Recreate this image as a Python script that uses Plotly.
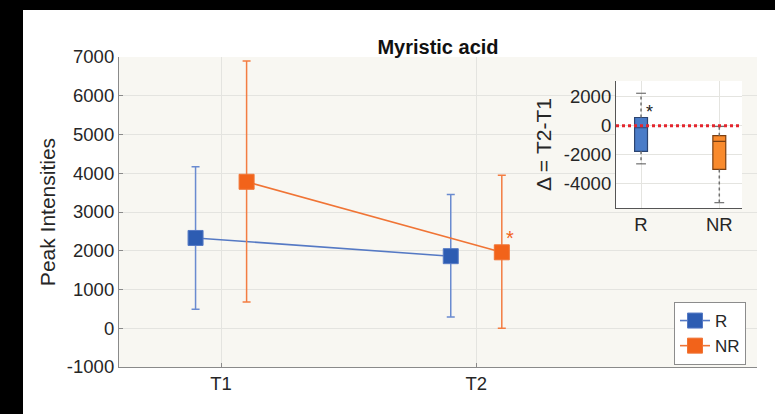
import plotly.graph_objects as go

# ---------------- data ----------------
timepoints = ["T1", "T2"]
r_mean = [2330, 1860]
r_upper = [4170, 3450]
r_lower = [490, 290]
nr_mean = [3780, 1960]
nr_upper = [6900, 3950]
nr_lower = [680, 0]

groups = ["R", "NR"]
d_q1 = [-1770, -3030]
d_median = [-140, -1080]
d_q3 = [570, -690]
d_low = [-2640, -5330]
d_high = [2250, -50]

main_ticks = [-1000, 0, 1000, 2000, 3000, 4000, 5000, 6000, 7000]
inset_ticks = [-4000, -2000, 0, 2000]

# ---------------- style ----------------
W, H = 775, 414
FONT = "Liberation Sans, Arial, sans-serif"
TXT = "#262626"
BLUE_M = "#2d5cb2"
BLUE_L = "#5579c4"
BLUE_E = "#6a8bd0"
OR_M = "#f2631a"
OR_L = "#f07435"
OR_E = "#f37d42"
DODGE = 0.1

def px_x(p):
    return p / W

def px_y(p):
    return 1 - p / H

pos = list(range(1, len(timepoints) + 1))

fig = go.Figure()

# main series
for name, mean, up, lo, sign, mc, lc, ec in [
    ("R", r_mean, r_upper, r_lower, -1, BLUE_M, BLUE_L, BLUE_E),
    ("NR", nr_mean, nr_upper, nr_lower, 1, OR_M, OR_L, OR_E),
]:
    fig.add_trace(go.Scatter(
        x=[p + sign * DODGE for p in pos], y=mean, name=name,
        mode="lines+markers",
        line=dict(color=lc, width=1.6),
        marker=dict(symbol="square", size=15, color=mc, line=dict(color=lc, width=1)),
        error_y=dict(type="data", symmetric=False,
                     array=[u - m for u, m in zip(up, mean)],
                     arrayminus=[m - l for m, l in zip(mean, lo)],
                     color=ec, thickness=1.5, width=4),
        xaxis="x", yaxis="y",
    ))

# inset boxes
gpos = list(range(1, len(groups) + 1))
box_fill = ["#4a7cc8", "#f98a2c"]
box_line = ["#2c4470", "#7a3e10"]
for i, g in enumerate(groups):
    for a, b in [(d_q3[i], d_high[i]), (d_q1[i], d_low[i])]:
        fig.add_trace(go.Scatter(
            x=[gpos[i], gpos[i]], y=[a, b], mode="lines",
            line=dict(color="#707070", width=1.5, dash="dot"),
            showlegend=False, hoverinfo="skip", xaxis="x2", yaxis="y2"))
    fig.add_trace(go.Scatter(
        x=[gpos[i], gpos[i]], y=[d_low[i], d_high[i]], mode="markers",
        marker=dict(symbol="line-ew", size=7, line=dict(color="#707070", width=1.2)),
        showlegend=False, hoverinfo="skip", xaxis="x2", yaxis="y2"))
    fig.add_trace(go.Box(
        x=[gpos[i]], q1=[d_q1[i]], median=[d_median[i]], q3=[d_q3[i]],
        lowerfence=[d_q1[i]], upperfence=[d_q3[i]],
        width=0.165, fillcolor=box_fill[i], line=dict(color=box_line[i], width=1.2),
        whiskerwidth=0, showlegend=False, hoverinfo="skip", xaxis="x2", yaxis="y2"))

# ---------------- layout ----------------
main_x = [px_x(119), px_x(757)]
main_y = [px_y(367), px_y(57)]
ins_x = [px_x(616), px_x(742)]
ins_y = [px_y(208), px_y(81)]

axis_common = dict(showline=True, linecolor="#8a8a8a", linewidth=1.2,
                   showgrid=True, gridcolor="#e4e4e0", gridwidth=1, zeroline=False,
                   tickfont=dict(family=FONT, size=18.5, color=TXT),
                   ticks="inside", tickcolor="#8a8a8a", ticklen=4, automargin=False)
inset_axis = {**axis_common, "ticks": "", "linecolor": "#555555"}

fig.update_layout(
    template="none",
    width=W, height=H, margin=dict(l=0, r=0, t=0, b=0, pad=0), autosize=False,
    paper_bgcolor="white", plot_bgcolor="white",
    font=dict(family=FONT, color=TXT),
    xaxis=dict(domain=main_x, range=[0.6, 3.1], tickvals=pos, ticktext=timepoints,
               anchor="y", **axis_common),
    yaxis=dict(domain=main_y, range=[-1000, 7000], tickvals=main_ticks,
               ticktext=[str(v) for v in main_ticks], anchor="x",
               title=dict(text="Peak Intensities", font=dict(family=FONT, size=21, color=TXT),
                          standoff=5),
               **axis_common),
    xaxis2=dict(domain=ins_x, range=[0.68, 2.29], tickvals=gpos, ticktext=groups,
                anchor="y2", **inset_axis),
    yaxis2=dict(domain=ins_y, range=[-5700, 3100], tickvals=inset_ticks,
                ticktext=[str(v) for v in inset_ticks], anchor="x2",
                title=dict(text="Δ = T2-T1", font=dict(family=FONT, size=21, color=TXT),
                           standoff=6),
                **inset_axis),
    legend=dict(x=px_x(674), y=px_y(302), xanchor="left", yanchor="top",
                bgcolor="white", bordercolor="#8c8c8c", borderwidth=1,
                font=dict(family=FONT, size=17, color=TXT),
                itemwidth=30, tracegroupgap=0),
    showlegend=True,
    title=dict(text="<b>Myristic acid</b>", x=px_x(438), xanchor="center", xref="paper",
               y=px_y(47), yanchor="middle", yref="container",
               font=dict(family=FONT, size=20, color="#111111")),
)

fig.add_shape(type="rect", xref="x domain", yref="y domain", x0=0, x1=1, y0=0, y1=1,
              fillcolor="#f8f7f2", line=dict(width=0), layer="below")
fig.add_shape(type="line", xref="x2 domain", yref="y2", x0=0, x1=1, y0=0, y1=0,
              line=dict(color="#e3262e", width=3, dash="dot"), layer="above")

fig.add_annotation(x=pos[1] + DODGE, y=nr_mean[1], xref="x", yref="y", text="*",
                   showarrow=False, xshift=8, yshift=14,
                   font=dict(family=FONT, size=20, color=OR_M))
fig.add_annotation(x=gpos[0], y=d_q3[0], xref="x2", yref="y2", text="*",
                   showarrow=False, xshift=8, yshift=6,
                   font=dict(family=FONT, size=18, color="#222222"))

fig.add_shape(type="rect", xref="paper", yref="paper", x0=0, x1=px_x(23), y0=0, y1=1,
              fillcolor="black", line=dict(width=0), layer="above")
fig.add_shape(type="rect", xref="paper", yref="paper", x0=0, x1=1, y0=px_y(10), y1=1,
              fillcolor="black", line=dict(width=0), layer="above")

fig.write_html("out.html")
